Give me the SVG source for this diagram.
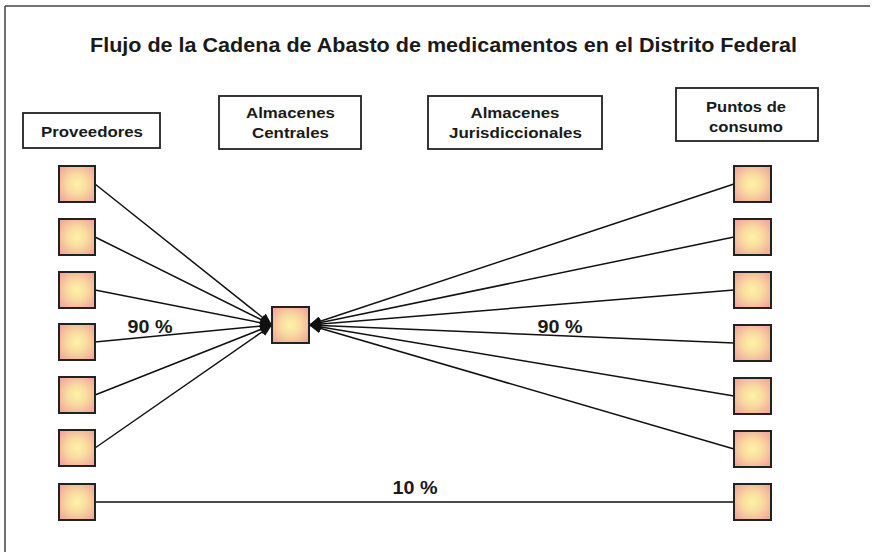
<svg xmlns="http://www.w3.org/2000/svg" width="872" height="552" viewBox="0 0 872 552">
<defs>
<radialGradient id="g" cx="50%" cy="50%" r="60%">
<stop offset="0" stop-color="#fdf3a6"/>
<stop offset="0.45" stop-color="#f9dca0"/>
<stop offset="1" stop-color="#f2aa9c"/>
</radialGradient>
<marker id="ah" viewBox="0 0 12 10" refX="12" refY="5" markerWidth="12" markerHeight="10" markerUnits="userSpaceOnUse" orient="auto">
<path d="M0,0 L12,5 L0,10 z" fill="#111"/>
</marker>
<style>
.sq{fill:url(#g);stroke:#222;stroke-width:2}
.hb{fill:#fff;stroke:#222;stroke-width:1.8}
.t{font-family:"Liberation Sans",Arial,sans-serif;font-weight:bold;fill:#1a1a1a;text-anchor:middle}
.h{font-size:15px}
.p{font-size:18px}
.c line{stroke:#111;stroke-width:1.5}
</style>
</defs>
<rect width="872" height="552" fill="#fff"/>
<g id="frame" stroke="#444" stroke-width="1.5">
<line x1="5" y1="6" x2="870" y2="6"/>
<line x1="5" y1="6" x2="5" y2="552"/>
</g>
<text id="title" class="t" x="443.5" y="52" font-size="20" textLength="707" lengthAdjust="spacingAndGlyphs">Flujo de la Cadena de Abasto de medicamentos  en el Distrito Federal</text>

<g id="h-proveedores"><rect class="hb" x="23" y="113" width="137" height="35"/><text class="t h" x="92" y="137" textLength="102" lengthAdjust="spacingAndGlyphs">Proveedores</text></g>
<g id="h-centrales"><rect class="hb" x="219" y="96" width="142" height="53"/><text class="t h" x="290.5" y="118" textLength="89" lengthAdjust="spacingAndGlyphs">Almacenes</text><text class="t h" x="290.5" y="138" textLength="77" lengthAdjust="spacingAndGlyphs">Centrales</text></g>
<g id="h-jurisdiccionales"><rect class="hb" x="428" y="96" width="174" height="53"/><text class="t h" x="515" y="118" textLength="89" lengthAdjust="spacingAndGlyphs">Almacenes</text><text class="t h" x="515.5" y="138" textLength="133" lengthAdjust="spacingAndGlyphs">Jurisdiccionales</text></g>
<g id="h-consumo"><rect class="hb" x="676" y="88" width="142" height="53"/><text class="t h" x="746" y="112" textLength="80" lengthAdjust="spacingAndGlyphs">Puntos de</text><text class="t h" x="746" y="132" textLength="74" lengthAdjust="spacingAndGlyphs">consumo</text></g>

<g id="connectors" class="c">
<line x1="95" y1="184" x2="272" y2="325" marker-end="url(#ah)"/>
<line x1="95" y1="237" x2="272" y2="325" marker-end="url(#ah)"/>
<line x1="95" y1="290" x2="272" y2="325" marker-end="url(#ah)"/>
<line x1="95" y1="342" x2="272" y2="325" marker-end="url(#ah)"/>
<line x1="95" y1="395" x2="272" y2="325" marker-end="url(#ah)"/>
<line x1="95" y1="448" x2="272" y2="325" marker-end="url(#ah)"/>
<line x1="734" y1="184" x2="309" y2="325" marker-end="url(#ah)"/>
<line x1="734" y1="237" x2="309" y2="325" marker-end="url(#ah)"/>
<line x1="734" y1="290" x2="309" y2="325" marker-end="url(#ah)"/>
<line x1="734" y1="343" x2="309" y2="325" marker-end="url(#ah)"/>
<line x1="734" y1="396" x2="309" y2="325" marker-end="url(#ah)"/>
<line x1="734" y1="449" x2="309" y2="325" marker-end="url(#ah)"/>
<line x1="95" y1="502" x2="734" y2="502"/>
</g>

<g id="labels">
<text class="t p" x="150" y="333" textLength="45" lengthAdjust="spacingAndGlyphs">90 %</text>
<text class="t p" x="560" y="333" textLength="45" lengthAdjust="spacingAndGlyphs">90 %</text>
<text class="t p" x="415" y="494" textLength="45" lengthAdjust="spacingAndGlyphs">10 %</text>
</g>

<g id="left-nodes">
<rect id="p1" class="sq" x="59" y="166" width="36" height="36"/>
<rect id="p2" class="sq" x="59" y="219" width="36" height="36"/>
<rect id="p3" class="sq" x="59" y="272" width="36" height="36"/>
<rect id="p4" class="sq" x="59" y="324" width="36" height="36"/>
<rect id="p5" class="sq" x="59" y="377" width="36" height="36"/>
<rect id="p6" class="sq" x="59" y="430" width="36" height="36"/>
<rect id="p7" class="sq" x="59" y="484" width="36" height="36"/>
</g>
<g id="central"><rect class="sq" x="272" y="307" width="37" height="36"/></g>
<g id="right-nodes">
<rect id="c1" class="sq" x="734" y="166" width="37" height="36"/>
<rect id="c2" class="sq" x="734" y="219" width="37" height="36"/>
<rect id="c3" class="sq" x="734" y="272" width="37" height="36"/>
<rect id="c4" class="sq" x="734" y="325" width="37" height="36"/>
<rect id="c5" class="sq" x="734" y="378" width="37" height="36"/>
<rect id="c6" class="sq" x="734" y="431" width="37" height="36"/>
<rect id="c7" class="sq" x="734" y="484" width="37" height="36"/>
</g>
</svg>
